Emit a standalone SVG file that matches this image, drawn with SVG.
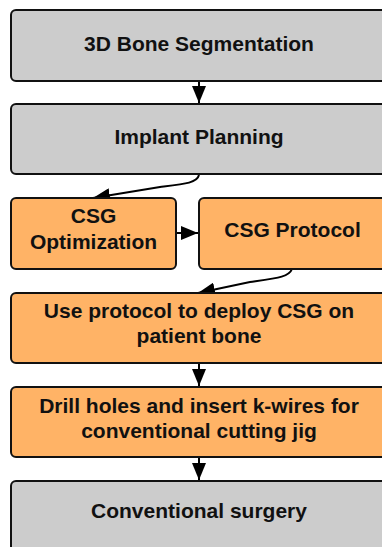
<svg xmlns="http://www.w3.org/2000/svg" width="382" height="547" viewBox="0 0 382 547">
  <style>
    .box { stroke: #111; stroke-width: 2; }
    .gray { fill: #cccccc; }
    .orange { fill: #ffb366; }
    .lbl { font-family: "Liberation Sans", Arial, sans-serif; font-weight: bold; font-size: 21px; fill: #111; text-anchor: middle; }
    .edge { fill: none; stroke: #000; stroke-width: 2; }
  </style>
  <defs>
    <marker id="arrow" markerUnits="userSpaceOnUse" markerWidth="18" markerHeight="14" refX="17" refY="7" orient="auto">
      <path d="M0,0 L17,7 L0,14 Z" fill="#000"/>
    </marker>
  </defs>
  <rect width="382" height="547" fill="#fff"/>

  <!-- connectors -->
  <g id="connectors">
    <path class="edge" d="M199,81 L199,103" marker-end="url(#arrow)"/>
    <path class="edge" d="M199,175 C197,183 185,184 160,187 L93,198" marker-end="url(#arrow)"/>
    <path class="edge" d="M176,233 L198,233" marker-end="url(#arrow)"/>
    <path class="edge" d="M292,269 C289,277 278,278 250,282 L198,293" marker-end="url(#arrow)"/>
    <path class="edge" d="M199,363 L199,386" marker-end="url(#arrow)"/>
    <path class="edge" d="M199,457 L199,480" marker-end="url(#arrow)"/>
  </g>

  <g id="bone-segmentation">
    <rect class="box gray" x="11" y="10" width="376" height="71" rx="5"/>
    <text class="lbl" x="199" y="51">3D Bone Segmentation</text>
  </g>
  <g id="implant-planning">
    <rect class="box gray" x="11" y="104" width="376" height="70" rx="5"/>
    <text class="lbl" x="199" y="144">Implant Planning</text>
  </g>
  <g id="csg-optimization">
    <rect class="box orange" x="11" y="198" width="165" height="71" rx="5"/>
    <text class="lbl" x="93.5" y="223">CSG</text>
    <text class="lbl" x="93.5" y="249">Optimization</text>
  </g>
  <g id="csg-protocol">
    <rect class="box orange" x="199" y="198" width="188" height="71" rx="5"/>
    <text class="lbl" x="292.5" y="237">CSG Protocol</text>
  </g>
  <g id="deploy-csg">
    <rect class="box orange" x="11" y="293" width="376" height="70" rx="5"/>
    <text class="lbl" x="199" y="318">Use protocol to deploy CSG on</text>
    <text class="lbl" x="199" y="343">patient bone</text>
  </g>
  <g id="drill-holes">
    <rect class="box orange" x="11" y="387" width="376" height="70" rx="5"/>
    <text class="lbl" x="199" y="413">Drill holes and insert k-wires for</text>
    <text class="lbl" x="199" y="438">conventional cutting jig</text>
  </g>
  <g id="conventional-surgery">
    <rect class="box gray" x="11" y="481" width="376" height="80" rx="5"/>
    <text class="lbl" x="199" y="518">Conventional surgery</text>
  </g>
</svg>
